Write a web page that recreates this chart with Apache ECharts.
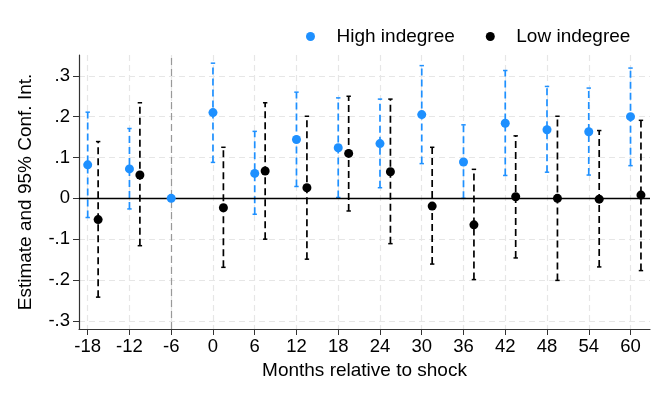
<!DOCTYPE html>
<html>
<head>
<meta charset="utf-8">
<script src="https://cdn.jsdelivr.net/npm/echarts@6/dist/echarts.min.js"></script>
<style>
  html, body { margin: 0; padding: 0; background: #fff; }
  #chart { width: 664px; height: 399px; }
</style>
</head>
<body>
<div id="chart"></div>
<script>
// months relative to shock
const months = [-18, -12, -6, 0, 6, 12, 18, 24, 30, 36, 42, 48, 54, 60]
const yTicks = [-0.3, -0.2, -0.1, 0, 0.1, 0.2, 0.3]

// high indegree: estimate, lower and upper 95% bound
const highEst = [0.082, 0.072, 0, 0.210, 0.061, 0.144, 0.124, 0.134, 0.205, 0.089, 0.184, 0.168, 0.163, 0.200]
const highLo = [-0.047, -0.026, null, 0.088, -0.039, 0.029, 0.002, 0.026, 0.085, 0.000, 0.056, 0.064, 0.057, 0.080]
const highHi = [0.211, 0.171, null, 0.331, 0.164, 0.260, 0.246, 0.243, 0.325, 0.180, 0.313, 0.274, 0.270, 0.319]

// low indegree
const lowEst = [-0.052, 0.057, null, -0.023, 0.067, 0.026, 0.110, 0.065, -0.019, -0.065, 0.004, 0.000, -0.002, 0.008]
const lowLo = [-0.242, -0.116, null, -0.169, -0.100, -0.149, -0.031, -0.111, -0.161, -0.199, -0.146, -0.201, -0.168, -0.177]
const lowHi = [0.139, 0.234, null, 0.125, 0.234, 0.201, 0.250, 0.243, 0.125, 0.071, 0.153, 0.201, 0.166, 0.191]

const lowShift = 1.5 // low indegree drawn a bit to the right
const blue = '#1e90ff'
const font = 'Liberation Sans, Arial, sans-serif'

const fmtY = (v) => {
  if (Math.abs(v) < 1e-9) return '0'
  return (v < 0 ? '-' : '') + Math.abs(v).toFixed(1).replace(/^0/, '')
}

const barData = (xs, lo, hi, shift) =>
  xs.map((m, i) => (lo[i] == null ? [m + shift, '-', '-'] : [m + shift, lo[i], hi[i]]))

const errorBar = (color) => (params, api) => {
  const lo = api.value(1)
  const hi = api.value(2)
  if (isNaN(lo) || isNaN(hi)) return
  const a = api.coord([api.value(0), lo])
  const b = api.coord([api.value(0), hi])
  const cap = 2.2
  return {
    type: 'group',
    children: [
      { type: 'line', shape: { x1: a[0], y1: a[1], x2: b[0], y2: b[1] },
        style: { stroke: color, lineWidth: 1.7, lineDash: [7, 4] } },
      { type: 'line', shape: { x1: a[0] - cap, y1: a[1], x2: a[0] + cap, y2: a[1] },
        style: { stroke: color, lineWidth: 1.5 } },
      { type: 'line', shape: { x1: b[0] - cap, y1: b[1], x2: b[0] + cap, y2: b[1] },
        style: { stroke: color, lineWidth: 1.5 } }
    ]
  }
}

const chart = echarts.init(document.getElementById('chart'))
const option = {
  animation: false,
  textStyle: { fontFamily: font },
  grid: { left: 79, right: 14, top: 55, bottom: 70 },
  legend: {
    data: ['High indegree', 'Low indegree'],
    left: 301,
    top: 22,
    icon: 'circle',
    itemWidth: 42,
    itemHeight: 9,
    itemGap: 31,
    textStyle: { fontSize: 19, color: '#000', fontFamily: font }
  },
  xAxis: {
    type: 'value',
    min: -19.25,
    max: 62.8,
    name: 'Months relative to shock',
    nameLocation: 'middle',
    nameGap: 30,
    nameTextStyle: { fontSize: 19, color: '#000' },
    axisLine: { onZero: false, lineStyle: { color: '#333', width: 1.2 } },
    axisTick: { show: true, length: 6, customValues: months, lineStyle: { color: '#333' } },
    axisLabel: { customValues: months, fontSize: 18.5, color: '#000', margin: 8 },
    splitLine: { show: true, lineStyle: { color: '#e6e6e6', type: [6, 4], width: 1.2 } }
  },
  yAxis: {
    type: 'value',
    min: -0.32,
    max: 0.351,
    name: 'Estimate and 95% Conf. Int.',
    nameLocation: 'middle',
    nameGap: 44,
    nameTextStyle: { fontSize: 19, color: '#000' },
    axisLine: { show: true, onZero: false, lineStyle: { color: '#333', width: 1.2 } },
    axisTick: { show: true, length: 6, customValues: yTicks, lineStyle: { color: '#333' } },
    axisLabel: { customValues: yTicks, fontSize: 18.5, color: '#000', margin: 9, formatter: fmtY },
    splitLine: { show: true, lineStyle: { color: '#e6e6e6', type: [6, 4], width: 1.2 } }
  },
  series: [
    {
      name: 'refs',
      type: 'line',
      data: [],
      silent: true,
      markLine: {
        silent: true,
        symbol: 'none',
        label: { show: false },
        data: [
          { yAxis: 0, lineStyle: { color: '#000', width: 1.3, type: 'solid' } },
          { xAxis: -6, lineStyle: { color: '#999', width: 1.2, type: [7, 4] } }
        ]
      }
    },
    {
      name: 'High CI',
      type: 'custom',
      renderItem: errorBar(blue),
      encode: { x: 0, y: [1, 2] },
      data: barData(months, highLo, highHi, 0),
      z: 3
    },
    {
      name: 'Low CI',
      type: 'custom',
      renderItem: errorBar('#000'),
      encode: { x: 0, y: [1, 2] },
      data: barData(months, lowLo, lowHi, lowShift),
      z: 3
    },
    {
      name: 'High indegree',
      type: 'scatter',
      symbolSize: 9,
      itemStyle: { color: blue, opacity: 1 },
      data: months.map((m, i) => [m, highEst[i]]),
      z: 5
    },
    {
      name: 'Low indegree',
      type: 'scatter',
      symbolSize: 9,
      itemStyle: { color: '#000', opacity: 1 },
      data: months.map((m, i) => (lowEst[i] == null ? [m + lowShift, '-'] : [m + lowShift, lowEst[i]])),
      z: 5
    }
  ]
}
chart.setOption(option)
</script>
</body>
</html>
